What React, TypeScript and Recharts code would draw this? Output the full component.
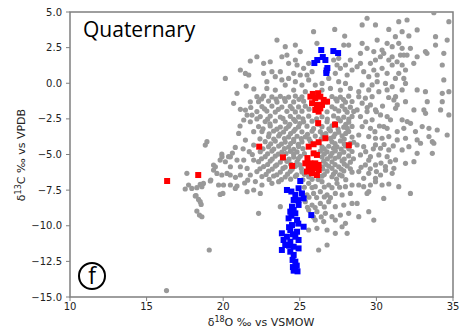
import { ScatterChart, Scatter, XAxis, YAxis, ReferenceArea } from "recharts";

// δ18O (VSMOW), δ13C (VPDB) pairs
const grayPoints: [number, number][] = [
  // upper right spread
  [29.07, 4.09], [29.39, 4.56], [29.94, 4.09], [30.81, 3.78], [31.46, 4.32], [32.0, 4.44],
  [31.68, 3.62], [32.12, 3.32], [32.66, 3.74], [31.24, 3.27], [30.7, 2.8], [30.05, 3.03],
  [29.07, 2.8], [29.39, 2.45], [28.96, 2.1], [29.83, 2.22], [30.37, 2.33], [30.48, 2.1],
  [31.03, 2.57], [31.46, 2.8], [31.68, 2.45], [32.22, 2.45], [31.57, 1.98], [31.79, 1.98],
  [32.0, 1.98], [31.03, 1.86], [30.81, 1.63], [30.26, 1.86], [29.94, 1.63], [29.61, 1.4],
  [28.96, 1.4], [28.74, 1.16], [29.17, 0.81], [29.83, 0.93], [29.5, 0.46], [30.05, 0.58],
  [30.37, 1.05], [30.7, 0.7], [31.03, 1.28], [31.35, 1.51], [31.68, 1.28], [31.9, 0.93],
  [31.46, 0.7], [31.24, 0.34], [31.79, 0.34], [31.9, -0.01], [31.03, -0.24], [30.59, -0.01],
  [30.05, 0.11], [29.72, -0.12], [29.07, -0.12], [28.85, -0.59], [29.5, -0.47], [30.16, -0.59],
  [30.7, -0.47], [31.68, -0.47], [32.66, -0.47], [33.2, -0.59], [34.3, -0.71], [34.73, -0.59],
  [34.4, 0.23], [34.3, 1.28], [34.4, 2.1], [33.86, 3.27], [33.86, 2.68], [34.62, 3.03],
  [34.73, 4.32], [33.75, 4.95], [33.2, 2.22], [33.3, 2.1], [32.66, 1.86], [32.44, 1.4],
  // upper middle
  [23.51, 3.03], [25.9, 3.62], [27.28, 3.78], [27.93, 3.31], [26.12, 2.8], [27.87, 2.68],
  [28.19, 2.68], [24.05, 2.57], [24.71, 2.68], [25.03, 2.22], [24.16, 1.98], [23.83, 1.86],
  [23.07, 1.51], [22.64, 1.4], [23.18, 0.81], [22.64, 0.7], [22.2, 1.86], [23.73, 0.81],
  [24.27, 1.4], [24.71, 1.63], [24.82, 1.28], [25.25, 1.05], [25.58, 1.4], [25.8, 0.81],
  [25.47, 0.58], [25.03, 0.58], [24.6, 0.7], [24.27, 0.34], [23.83, 0.23], [23.4, 0.46],
  [22.85, 0.11], [22.85, -0.36], [23.4, -0.48], [24.05, -0.13], [24.71, 0.11], [25.14, -0.13],
  [25.58, 0.23], [26.01, -0.13], [26.45, -0.01], [26.89, 0.34], [27.32, 0.7], [27.65, 1.05],
  [27.98, 1.28], [28.3, 1.63], [28.41, 0.93], [28.09, 0.58], [27.54, 0.11], [27.98, -0.01],
  [27.0, -0.36], [26.45, -0.48], [27.65, -0.48], [28.3, -0.36], [24.6, -0.48], [25.36, -0.59],
  [27.21, 1.63], [27.43, 1.28], [27.54, 1.75],
  // left of the core
  [21.77, 1.56], [21.12, 0.93], [21.45, 0.69], [21.67, 0.58], [20.14, 0.34], [20.9, -0.71],
  [20.68, -1.41], [21.77, -1.3], [21.12, -1.83], [21.45, -1.88], [21.56, -2.23], [21.88, -2.23],
  [21.34, -2.58], [21.77, -2.7], [21.01, -3.52], [21.99, -3.4], [21.45, -3.99], [18.94, -4.1],
  [18.83, -4.34], [20.79, -4.5], [21.99, -4.34], [19.92, -5.16], [20.47, -5.16], [20.9, -5.39],
  [21.34, -5.39], [20.14, -5.51], [19.49, -5.86], [20.47, -5.86], [21.12, -5.86], [21.56, -5.98],
  [21.99, -5.39], [19.59, -6.33], [20.25, -6.33], [21.12, -6.44], [21.77, -6.44], [19.8, -5.39],
  [19.37, -5.74], [20.35, -5.15], [19.91, -4.98],
  [21.1, -3.0], [21.7, -4.8], [21.3, -4.6], [20.6, -4.9], [21.9, -5.0], [21.6, -6.8],
  [22.1, -6.9], [20.8, -6.6], [21.4, -7.0], [21.8, -1.7], [22.0, -0.4], [21.5, -0.2],
  // left tail
  [17.63, -6.32], [17.52, -7.42], [17.95, -7.38], [18.28, -7.33], [18.5, -7.1], [18.71, -7.03],
  [18.23, -7.89], [18.39, -8.15], [18.5, -8.31], [18.56, -8.5], [18.28, -8.97], [18.45, -9.25],
  [18.61, -9.37], [19.19, -6.79], [19.37, -6.09], [19.91, -6.44], [20.02, -7.14], [19.8, -7.8],
  [19.98, -7.73], [20.46, -6.44], [19.09, -11.7], [16.3, -14.55], [17.74, -7.14], [18.61, -7.26],
  [19.16, -6.86], [19.7, -7.14], [20.47, -7.14], [20.79, -7.38], [20.9, -7.21], [21.56, -7.61],
  [21.99, -7.49], [18.18, -7.91],
  // dense core
  [22.2, -0.94], [22.64, -0.9], [23.18, -0.96], [23.73, -0.92], [24.27, -0.97], [24.71, -0.9],
  [25.14, -0.95], [27.1, -0.93], [27.65, -0.98], [28.19, -0.91],
  [22.31, -1.29], [22.96, -1.25], [23.51, -1.32], [24.05, -1.27], [24.6, -1.31], [25.25, -1.26],
  [26.78, -1.3], [27.43, -1.24], [27.98, -1.33], [28.41, -1.28],
  [22.53, -1.64], [23.18, -1.6], [23.83, -1.67], [24.38, -1.62], [24.92, -1.66], [25.36, -1.61],
  [27.1, -1.65], [27.76, -1.6], [28.3, -1.68],
  [22.2, -1.99], [22.85, -1.95], [23.4, -2.02], [24.16, -1.97], [24.71, -2.01], [25.14, -1.96],
  [26.78, -2.0], [27.54, -1.94], [28.09, -2.03], [28.52, -1.98],
  [22.42, -2.34], [23.07, -2.3], [23.73, -2.37], [24.38, -2.32], [24.92, -2.36], [25.58, -2.31],
  [26.45, -2.35], [27.21, -2.29], [27.87, -2.38], [28.41, -2.33],
  [22.74, -2.69], [23.4, -2.65], [24.05, -2.72], [24.71, -2.67], [25.25, -2.71], [25.8, -2.66],
  [26.78, -2.7], [27.65, -2.64], [28.19, -2.73],
  [22.31, -3.04], [23.07, -3.0], [23.73, -3.07], [24.27, -3.02], [24.92, -3.06], [25.47, -3.01],
  [26.45, -3.05], [27.1, -2.99], [27.87, -3.08], [28.41, -3.03],
  [22.53, -3.39], [23.29, -3.35], [23.94, -3.42], [24.6, -3.37], [25.14, -3.41], [25.8, -3.36],
  [26.34, -3.4], [27.0, -3.34], [27.54, -3.43], [28.19, -3.38],
  [22.96, -3.74], [23.62, -3.7], [24.27, -3.77], [24.82, -3.72], [25.36, -3.76], [26.01, -3.71],
  [27.21, -3.75], [27.76, -3.69], [28.41, -3.78],
  [22.74, -4.1], [23.4, -4.06], [24.05, -4.13], [24.6, -4.08], [25.14, -4.12], [25.69, -4.07],
  [27.1, -4.11], [27.65, -4.05], [28.52, -4.14],
  [22.96, -4.45], [23.62, -4.41], [24.27, -4.48], [24.92, -4.43], [26.45, -4.47], [26.89, -4.42],
  [27.43, -4.46], [27.98, -4.4],
  [22.42, -4.8], [23.18, -4.76], [23.83, -4.83], [24.38, -4.78], [24.82, -4.82], [26.34, -4.77],
  [26.78, -4.81], [27.32, -4.75], [27.87, -4.84], [28.41, -4.79],
  [22.74, -5.15], [23.4, -5.11], [24.6, -5.18], [25.03, -5.13], [26.45, -5.17], [27.0, -5.12],
  [27.54, -5.16], [28.19, -5.1],
  [22.31, -5.5], [23.07, -5.46], [23.73, -5.53], [24.16, -5.48], [24.82, -5.52], [26.56, -5.47],
  [27.1, -5.51], [27.76, -5.45], [28.3, -5.54],
  [22.64, -5.85], [23.4, -5.81], [24.05, -5.88], [24.71, -5.83], [26.45, -5.87], [26.89, -5.82],
  [27.54, -5.86], [28.09, -5.8],
  [22.2, -6.2], [22.96, -6.16], [23.73, -6.23], [24.38, -6.18], [25.14, -6.22], [26.78, -6.17],
  [27.32, -6.21], [27.87, -6.15], [28.41, -6.24],
  [22.53, -6.55], [23.29, -6.51], [24.05, -6.58], [24.71, -6.53], [25.58, -6.57], [26.45, -6.52],
  [27.1, -6.56], [27.76, -6.5],
  [26.1, -2.5], [26.9, -3.2], [25.6, -3.9], [26.5, -3.6],
  // core, in-between rows
  [22.5, -1.1], [23.45, -1.12], [24.0, -1.08], [24.95, -1.13], [27.35, -1.1], [27.85, -1.14],
  [22.7, -1.8], [23.6, -1.83], [24.5, -1.78], [25.6, -1.82], [27.3, -1.79], [27.95, -1.84],
  [22.2, -2.5], [22.9, -2.52], [23.9, -2.47], [24.6, -2.53], [25.2, -2.49], [26.8, -2.51],
  [27.5, -2.46], [28.2, -2.52],
  [23.05, -2.85], [24.35, -2.88], [25.0, -2.83], [26.2, -2.87], [27.3, -2.84], [28.0, -2.89],
  [22.6, -3.2], [23.5, -3.22], [24.1, -3.18], [24.7, -3.23], [25.9, -3.19], [27.5, -3.21],
  [28.1, -3.17],
  [23.0, -3.55], [23.7, -3.57], [24.4, -3.53], [25.5, -3.58], [26.7, -3.54], [27.3, -3.56],
  [28.0, -3.52],
  [22.4, -3.9], [23.3, -3.92], [24.0, -3.88], [24.6, -3.93], [25.1, -3.89], [26.4, -3.91],
  [27.0, -3.87], [27.9, -3.92],
  [23.1, -4.25], [23.8, -4.27], [24.4, -4.23], [24.9, -4.28], [27.3, -4.24], [27.9, -4.26],
  [28.3, -4.22],
  [22.6, -4.6], [23.3, -4.62], [24.0, -4.58], [24.6, -4.63], [25.2, -4.59], [26.6, -4.61],
  [27.2, -4.57], [27.7, -4.62], [28.2, -4.6],
  [22.9, -4.95], [23.6, -4.97], [24.1, -4.93], [24.6, -4.98], [25.3, -4.94], [26.6, -4.96],
  [27.1, -4.92], [27.6, -4.97],
  [22.5, -5.3], [23.2, -5.32], [23.9, -5.28], [24.3, -5.33], [24.9, -5.29], [26.8, -5.31],
  [27.3, -5.27], [27.9, -5.32], [28.5, -5.3],
  [22.9, -5.7], [23.5, -5.72], [24.4, -5.68], [25.0, -5.73], [26.7, -5.69], [27.3, -5.71],
  [27.9, -5.67],
  [22.4, -6.0], [23.2, -6.02], [23.9, -5.98], [24.5, -6.03], [25.1, -5.99], [26.5, -6.01],
  [27.1, -5.97], [27.7, -6.02], [28.3, -6.0],
  [22.8, -6.4], [23.5, -6.42], [24.2, -6.38], [24.8, -6.43], [25.3, -6.39], [26.6, -6.41],
  [27.2, -6.37], [27.6, -6.42],
  [23.0, -6.75], [23.8, -6.77], [24.4, -6.73], [25.2, -6.78], [25.8, -6.74], [26.2, -6.76],
  [27.4, -6.72], [28.0, -6.77],
  // right middle
  [28.85, -0.94], [29.28, -1.05], [29.72, -0.94], [29.07, -1.4], [29.61, -1.52], [28.74, -1.87],
  [29.39, -1.99], [29.94, -1.87], [28.96, -2.34], [29.72, -2.57], [30.27, -2.22], [30.7, -2.34],
  [30.92, -2.57], [31.25, -1.76], [31.36, -1.52], [31.14, -1.17], [31.25, -0.94], [31.9, -1.29],
  [32.45, -1.87], [31.68, -2.57], [32.01, -2.69], [32.23, -2.81], [29.07, -3.04], [29.61, -3.16],
  [30.48, -3.04], [30.7, -3.16], [28.85, -3.63], [29.5, -3.74], [29.94, -3.86], [30.37, -3.86],
  [30.81, -3.74], [31.36, -3.98], [31.9, -3.86], [32.12, -4.45], [32.66, -3.98], [32.88, -4.21],
  [28.74, -4.33], [29.17, -4.45], [29.94, -4.33], [30.27, -4.56], [30.81, -4.68], [31.68, -4.68],
  [32.66, -4.92], [28.96, -5.03], [29.61, -5.15], [30.16, -5.03], [30.7, -5.15], [31.25, -5.38],
  [31.9, -5.62], [32.45, -5.5], [29.28, -5.73], [29.94, -5.73], [30.59, -5.85], [31.14, -5.97],
  [28.85, -6.2], [29.5, -6.32], [30.27, -6.44], [31.03, -6.32], [29.17, -6.67], [29.94, -6.67],
  [32.99, -3.04], [33.43, -3.16], [33.97, -3.28], [33.21, -2.11], [33.1, -1.87], [34.19, -1.87],
  [33.32, -1.29], [34.3, -1.29], [34.73, -2.22], [33.43, -3.74], [33.65, -4.1], [33.75, -4.21],
  [34.62, -3.63], [33.65, -4.92], [32.55, -3.39], [31.36, -3.39], [31.79, -3.16],
  [29.3, -4.8], [29.8, -4.6], [30.5, -4.3], [31.1, -4.4], [29.5, -5.4], [30.3, -5.6],
  [30.9, -5.5], [29.6, -6.0], [30.0, -6.2], [30.6, -6.1], [29.0, -5.9], [29.9, -3.4],
  [30.2, -3.0], [29.3, -2.7], [30.0, -2.0], [29.4, -1.7], [30.4, -1.6], [30.8, -1.0],
  // below the core
  [22.53, -7.14], [23.18, -7.02], [23.62, -6.91], [22.42, -7.73], [25.58, -7.02], [26.01, -7.26],
  [26.45, -6.91], [26.89, -7.14], [27.43, -7.02], [27.98, -7.26], [28.41, -7.14], [25.47, -7.84],
  [25.9, -7.73], [26.34, -7.61], [26.78, -7.84], [27.32, -7.73], [27.76, -7.84], [28.3, -7.73],
  [25.36, -8.31], [25.8, -8.55], [26.34, -8.43], [26.89, -8.31], [27.32, -8.66], [27.87, -8.55],
  [28.41, -8.43], [25.58, -8.9], [26.12, -9.01], [26.67, -9.13], [27.1, -9.36], [27.65, -9.25],
  [28.19, -9.13], [26.01, -9.6], [26.56, -9.71], [27.32, -9.6], [27.98, -9.83], [25.58, -10.3],
  [26.12, -10.18], [26.78, -10.3], [27.76, -10.07], [22.31, -9.13], [23.73, -8.66], [26.23, -11.7],
  [26.78, -11.35], [27.32, -10.53], [28.09, -10.53],
  [25.3, -7.3], [25.8, -7.32], [26.6, -7.28], [27.1, -7.33], [27.6, -7.3],
  [25.6, -8.0], [26.1, -8.02], [26.6, -7.98], [27.0, -8.03],
  [25.5, -8.7], [26.0, -8.72], [26.6, -8.68], [25.9, -9.4], [26.4, -9.38],
  [28.85, -7.14], [29.17, -7.26], [29.61, -7.14], [29.94, -6.91], [30.37, -7.14], [30.81, -7.07],
  [31.46, -7.26], [32.22, -7.73], [29.5, -7.61], [29.39, -7.73], [30.48, -8.08], [28.74, -8.43],
  [28.85, -9.36], [29.5, -9.01], [29.83, -9.6],
];

const redPoints: [number, number][] = [
  [16.34, -6.86], [18.37, -6.44],
  [25.69, -0.94], [26.01, -1.05], [26.34, -0.94], [26.56, -1.17], [26.78, -1.29], [25.8, -1.4],
  [26.12, -1.52], [26.45, -1.52], [26.01, -1.87], [26.23, -1.99], [26.34, -1.76], [26.2, -0.7],
  [25.85, -0.75],
  [26.2, -2.8], [27.3, -2.9], [22.35, -4.45], [28.2, -4.35], [26.67, -3.86], [26.23, -4.14],
  [25.9, -4.28], [25.58, -4.45], [23.9, -5.2], [25.5, -5.25], [24.5, -5.8],
  [25.9, -4.92], [26.12, -5.03], [25.36, -5.62], [25.69, -5.62], [26.01, -5.62], [26.23, -5.73],
  [25.58, -5.97], [25.9, -5.97], [26.23, -6.09], [25.8, -6.32], [26.12, -6.44], [25.47, -6.2],
];

const bluePoints: [number, number][] = [
  [26.4, 2.33], [27.19, 2.26], [27.5, 2.12], [26.14, 1.63], [26.5, 1.84], [26.67, 1.63],
  [26.8, 1.07], [26.73, 0.72], [25.95, 1.42], [26.75, 0.9],
  [25.03, -6.86], [24.16, -7.49], [24.92, -7.37], [25.14, -7.73], [24.71, -7.84], [25.25, -8.08],
  [24.6, -8.19], [24.49, -8.66], [24.92, -8.54], [24.38, -9.01], [24.71, -9.13], [24.27, -9.48],
  [24.82, -9.6], [24.49, -9.95], [24.38, -10.3], [25.25, -10.07], [24.82, -10.42], [23.83, -10.53],
  [24.16, -10.77], [24.71, -10.77], [23.94, -11.0], [24.38, -11.12], [24.92, -11.0], [24.05, -11.35],
  [24.6, -11.47], [24.92, -11.59], [23.83, -11.7], [24.38, -11.82], [24.6, -12.05], [24.53, -12.4],
  [24.71, -12.52], [25.75, -9.25], [24.55, -12.9], [24.8, -12.8], [24.6, -13.15], [24.85, -13.2],
  [24.7, -13.05], [24.6, -8.9], [24.45, -9.3], [24.9, -9.85], [24.3, -10.1], [24.55, -10.6],
  [24.3, -11.4], [24.45, -7.6], [24.9, -8.2],
];

const xTicks = [10, 15, 20, 25, 30, 35];
const yTicks = [5, 2.5, 0, -2.5, -5, -7.5, -10, -12.5, -15];

const toXY = (pts: [number, number][]) => pts.map(([x, y]) => ({ x, y }));

const FRAME = "#7f7f7f";
const TICK_FONT = { fontFamily: "DejaVu Sans", fontSize: 10, fill: "#222" };

const Dot = (p: any) => <circle cx={p.cx} cy={p.cy} r={2.6} fill="#999999" />;
const square = (color: string) => (p: any) =>
  <rect x={p.cx - 3} y={p.cy - 3} width={6} height={6} fill={color} />;

const fmtY = (v: number) => v.toFixed(1).replace("-", "\u2212");

export default function App() {
  return (
    <div style={{ position: "absolute", left: 0, top: 0, width: 460, height: 331 }}>
      <ScatterChart width={460} height={331} margin={{ top: 12, right: 7, bottom: 0, left: 0 }}>
        <XAxis
          type="number"
          dataKey="x"
          domain={[10, 35]}
          ticks={xTicks}
          height={34}
          tickSize={4}
          tickMargin={2}
          tick={TICK_FONT}
          axisLine={false}
          tickLine={{ stroke: FRAME }}
          allowDataOverflow
        />
        <YAxis
          type="number"
          dataKey="y"
          domain={[-15, 5]}
          ticks={yTicks}
          width={70}
          tickSize={4}
          tickMargin={4}
          tick={TICK_FONT}
          tickFormatter={fmtY}
          axisLine={false}
          tickLine={{ stroke: FRAME }}
          allowDataOverflow
        />
        <Scatter data={toXY(grayPoints)} shape={Dot} isAnimationActive={false} />
        <Scatter data={toXY(redPoints)} shape={square("#ff0000")} isAnimationActive={false} />
        <Scatter data={toXY(bluePoints)} shape={square("#0000ff")} isAnimationActive={false} />
        <ReferenceArea x1={10} x2={35} y1={-15} y2={5} fill="none" stroke={FRAME} strokeWidth={1.5} />
      </ScatterChart>
      <svg
        width={460}
        height={331}
        style={{ position: "absolute", left: 0, top: 0, pointerEvents: "none" }}
      >
        <text x={83} y={37} fontFamily="Open Sans" fontSize={21} fill="#000">
          Quaternary
        </text>
        <circle cx={92} cy={276} r={13} fill="none" stroke="#000" strokeWidth={2} />
        <text x={92} y={284} textAnchor="middle" fontFamily="Open Sans" fontSize={23} fill="#000">
          f
        </text>
        <text x={261} y={326} textAnchor="middle" fontFamily="DejaVu Sans" fontSize={11} fill="#222">
          δ<tspan dy={-4} fontSize={8}>18</tspan>
          <tspan dy={4}>O ‰ vs VSMOW</tspan>
        </text>
        <text
          transform="translate(25,155) rotate(-90)"
          textAnchor="middle"
          fontFamily="DejaVu Sans"
          fontSize={11}
          fill="#222"
        >
          δ<tspan dy={-4} fontSize={8}>13</tspan>
          <tspan dy={4}>C ‰ vs VPDB</tspan>
        </text>
      </svg>
    </div>
  );
}
